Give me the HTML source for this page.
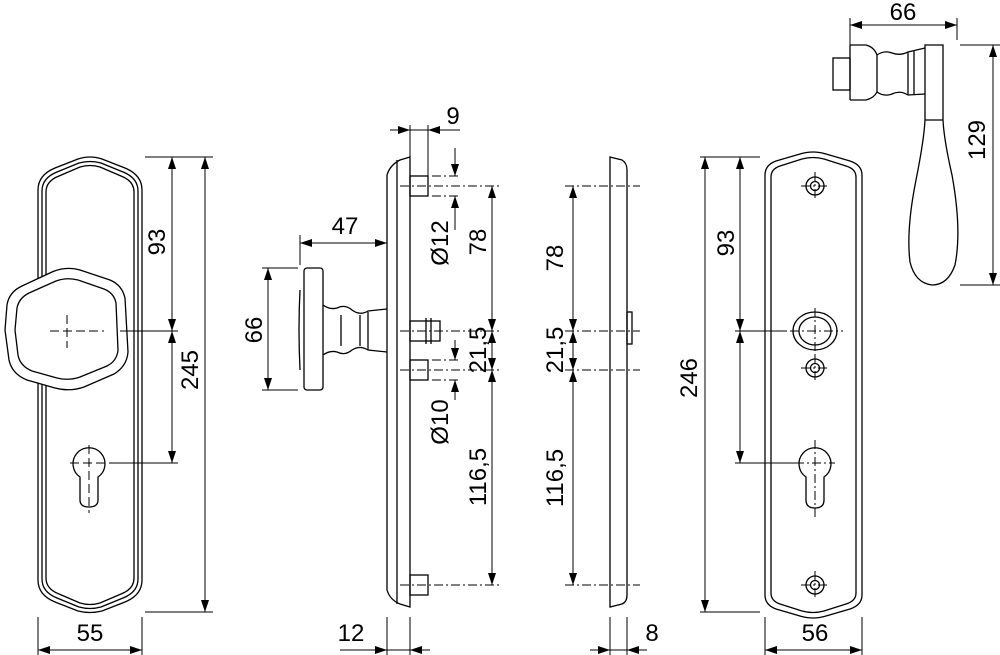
<!DOCTYPE html>
<html><head><meta charset="utf-8"><style>
html,body{margin:0;padding:0;background:#fff}
svg{display:block}
text{font-family:"Liberation Sans",Arial,sans-serif;font-size:24px;fill:#000}
</style></head><body>
<svg width="1000" height="655" viewBox="0 0 1000 655" xmlns="http://www.w3.org/2000/svg">
<defs>
<marker id="a" markerWidth="12" markerHeight="8" refX="12" refY="4" orient="auto-start-reverse" markerUnits="userSpaceOnUse"><path d="M0,0 L12,4 L0,8 Z" fill="#000"/></marker>
</defs>
<g fill="none" stroke="#000" stroke-width="1.3">
<path d="M38,190 Q38,175 55,168 L78,159 Q90,155 102,159 L125,168 Q142,175 142,190 L142,580 Q142,595 125,602 L102,611 Q90,614 78,611 L55,602 Q38,595 38,580 Z"/>
<path d="M42,191 Q42,178 57,172 L79,163 Q90,160 101,163 L123,172 Q138,178 138,191 L138,579 Q138,592 123,598 L101,607 Q90,610 79,607 L57,598 Q42,592 42,579 Z"/>
<path d="M46,192 Q46,181 59,176 L80,167 Q90,164 100,167 L121,176 Q134,181 134,192 L134,578 Q134,589 121,594 L100,603 Q90,606 80,603 L59,594 Q46,589 46,578 Z"/>
<path d="M7,305 Q9,292 22,286 L52,272 Q66,266 80,270 L110,280 Q122,285 125,298 L128,352 Q127,366 114,374 L84,387 Q70,392 55,388 L27,380 Q12,374 9,360 L5,330 Z" fill="#fff"/>
<path d="M17,308 Q19,298 29,293 L56,281 Q67,277 78,280 L104,289 Q114,293 116,303 L118,350 Q117,361 107,366 L80,377 Q69,381 57,378 L32,371 Q20,366 18,355 L15,330 Z"/>
<path d="M80,477 A16,16 0 1,1 98,477 L98,500 Q98,507 89,507 Q80,507 80,500 Z"/>
</g>
<g fill="none" stroke="#000" stroke-width="1" stroke-dasharray="9,4">
<line x1="50" y1="331" x2="104" y2="331"/><line x1="67" y1="315" x2="67" y2="348"/>
<line x1="70" y1="463" x2="115" y2="463"/><line x1="89" y1="445" x2="89" y2="513"/>
</g>
<g stroke="#000" stroke-width="1" fill="none">
<line x1="120" y1="331" x2="178" y2="331"/><line x1="115" y1="463" x2="178" y2="463"/>
<line x1="145" y1="157" x2="213" y2="157"/><line x1="145" y1="612" x2="213" y2="612"/>
<line x1="172" y1="157" x2="172" y2="331" marker-start="url(#a)" marker-end="url(#a)"/>
<line x1="172" y1="331" x2="172" y2="463" marker-start="url(#a)" marker-end="url(#a)"/>
<line x1="205" y1="157" x2="205" y2="612" marker-start="url(#a)" marker-end="url(#a)"/>
<line x1="38" y1="617" x2="38" y2="655"/><line x1="142" y1="617" x2="142" y2="655"/>
<line x1="38" y1="650" x2="142" y2="650" marker-start="url(#a)" marker-end="url(#a)"/>
</g>
<text transform="translate(165,242) rotate(-90)" text-anchor="middle">93</text>
<text transform="translate(198,370) rotate(-90)" text-anchor="middle">245</text>
<text x="90" y="641" text-anchor="middle">55</text>

<g fill="none" stroke="#000" stroke-width="1.3">
<path d="M387,175 Q390,165 400,160 L410,157 L410,607 L400,604 Q390,600 387,590 Z"/>
<line x1="397" y1="160" x2="397" y2="604"/>
<rect x="410" y="176" width="18" height="20"/>
<rect x="410" y="321" width="30" height="20"/>
<rect x="410" y="360" width="18" height="20"/>
<rect x="410" y="575" width="18" height="20"/>
<rect x="304" y="268" width="19" height="122" rx="3"/>
<path d="M300,290 Q298,329 300,370"/>
<path d="M323,305 Q330,310 337,308 Q345,304 352,310 Q360,316 368,311 L387,309"/>
<path d="M323,355 Q330,350 337,352 Q345,356 352,350 Q360,345 368,350 L387,352"/>
<line x1="341" y1="315" x2="341" y2="346"/><line x1="360" y1="315" x2="360" y2="346"/><line x1="368" y1="312" x2="368" y2="350"/>
<line x1="426" y1="318" x2="426" y2="344"/><line x1="431" y1="318" x2="431" y2="344"/>
</g>
<g stroke="#000" stroke-width="1" fill="none" stroke-dasharray="9,3,2,3">
<line x1="400" y1="186" x2="500" y2="186"/>
<line x1="400" y1="331" x2="500" y2="331"/>
<line x1="400" y1="370" x2="500" y2="370"/>
<line x1="400" y1="585" x2="500" y2="585"/>
<line x1="432" y1="176" x2="460" y2="176"/><line x1="432" y1="196" x2="460" y2="196"/>
<line x1="432" y1="360" x2="460" y2="360"/><line x1="432" y1="380" x2="460" y2="380"/>
</g>
<g stroke="#000" stroke-width="1" fill="none">
<line x1="410" y1="125" x2="410" y2="157"/><line x1="428" y1="125" x2="428" y2="176"/>
<line x1="390" y1="130" x2="410" y2="130" marker-end="url(#a)"/>
<line x1="448" y1="130" x2="428" y2="130" marker-end="url(#a)"/><line x1="410" y1="130" x2="460" y2="130"/>
<line x1="455" y1="148" x2="455" y2="176" marker-end="url(#a)"/>
<line x1="455" y1="230" x2="455" y2="196" marker-end="url(#a)"/>
<line x1="455" y1="340" x2="455" y2="360" marker-end="url(#a)"/>
<line x1="455" y1="400" x2="455" y2="380" marker-end="url(#a)"/>
<line x1="300" y1="235" x2="300" y2="265"/>
<line x1="300" y1="243" x2="387" y2="243" marker-start="url(#a)" marker-end="url(#a)"/>
<line x1="262" y1="268" x2="298" y2="268"/><line x1="262" y1="390" x2="298" y2="390"/>
<line x1="268" y1="268" x2="268" y2="390" marker-start="url(#a)" marker-end="url(#a)"/>
<line x1="492" y1="186" x2="492" y2="331" marker-start="url(#a)" marker-end="url(#a)"/>
<line x1="492" y1="331" x2="492" y2="370" marker-start="url(#a)" marker-end="url(#a)"/>
<line x1="492" y1="370" x2="492" y2="585" marker-start="url(#a)" marker-end="url(#a)"/>
<line x1="387" y1="617" x2="387" y2="655"/><line x1="410" y1="617" x2="410" y2="655"/>
<line x1="340" y1="650" x2="387" y2="650" marker-end="url(#a)"/>
<line x1="430" y1="650" x2="410" y2="650" marker-end="url(#a)"/><line x1="387" y1="650" x2="410" y2="650"/>
</g>
<text x="453" y="124" text-anchor="middle">9</text>
<text x="345" y="234" text-anchor="middle">47</text>
<text transform="translate(262,330) rotate(-90)" text-anchor="middle">66</text>
<text transform="translate(448,243) rotate(-90)" text-anchor="middle">Ø12</text>
<text transform="translate(486,242) rotate(-90)" text-anchor="middle">78</text>
<text transform="translate(486,350) rotate(-90)" text-anchor="middle">21,5</text>
<text transform="translate(448,422) rotate(-90)" text-anchor="middle">Ø10</text>
<text transform="translate(486,477) rotate(-90)" text-anchor="middle">116,5</text>
<text x="351" y="641" text-anchor="middle">12</text>

<g fill="none" stroke="#000" stroke-width="1.3">
<path d="M610,157 L622,160 Q627,163 627,170 L627,595 Q627,602 622,604 L610,607 Z"/>
<rect x="627" y="312" width="5" height="32"/>
</g>
<g stroke="#000" stroke-width="1" fill="none" stroke-dasharray="9,3,2,3">
<line x1="565" y1="186" x2="640" y2="186"/>
<line x1="565" y1="331" x2="640" y2="331"/>
<line x1="565" y1="370" x2="640" y2="370"/>
<line x1="565" y1="585" x2="640" y2="585"/>
</g>
<g stroke="#000" stroke-width="1" fill="none">
<line x1="573" y1="186" x2="573" y2="331" marker-start="url(#a)" marker-end="url(#a)"/>
<line x1="573" y1="331" x2="573" y2="370" marker-start="url(#a)" marker-end="url(#a)"/>
<line x1="573" y1="370" x2="573" y2="585" marker-start="url(#a)" marker-end="url(#a)"/>
<line x1="610" y1="617" x2="610" y2="655"/><line x1="627" y1="617" x2="627" y2="655"/>
<line x1="590" y1="650" x2="610" y2="650" marker-end="url(#a)"/>
<line x1="647" y1="650" x2="627" y2="650" marker-end="url(#a)"/><line x1="610" y1="650" x2="627" y2="650"/>
</g>
<text transform="translate(563,258) rotate(-90)" text-anchor="middle">78</text>
<text transform="translate(563,350) rotate(-90)" text-anchor="middle">21,5</text>
<text transform="translate(563,478) rotate(-90)" text-anchor="middle">116,5</text>
<text x="652" y="641" text-anchor="middle">8</text>

<g fill="none" stroke="#000" stroke-width="1.3">
<path d="M765,175 Q765,165 776,161 L800,154 Q813,150 826,154 L850,161 Q862,165 862,175 L862,595 Q862,605 850,609 L826,616 Q813,620 800,616 L776,609 Q765,605 765,595 Z"/>
<path d="M771,177 Q771,169 780,166 L802,159 Q813,156 824,159 L846,166 Q856,169 856,177 L856,593 Q856,601 846,604 L824,611 Q813,614 802,611 L780,604 Q771,601 771,593 Z"/>
<circle cx="815" cy="186" r="9"/><circle cx="815" cy="186" r="4.5"/>
<circle cx="815" cy="585" r="9"/><circle cx="815" cy="585" r="4.5"/>
<circle cx="815" cy="368" r="9"/><circle cx="815" cy="368" r="4.5"/>
<ellipse cx="815" cy="331" rx="22" ry="19"/><ellipse cx="815" cy="331" rx="16" ry="14"/>
<path d="M806,477 A16,16 0 1,1 824,477 L824,500 Q824,508 815,508 Q806,508 806,500 Z"/>
</g>
<g stroke="#000" stroke-width="1" fill="none" stroke-dasharray="9,3,2,3">
<line x1="815" y1="172" x2="815" y2="200"/><line x1="801" y1="186" x2="830" y2="186"/>
<line x1="815" y1="571" x2="815" y2="599"/><line x1="801" y1="585" x2="830" y2="585"/>
<line x1="815" y1="354" x2="815" y2="382"/><line x1="801" y1="368" x2="830" y2="368"/>
<line x1="815" y1="308" x2="815" y2="355"/><line x1="790" y1="331" x2="843" y2="331"/>
<line x1="815" y1="440" x2="815" y2="520"/><line x1="795" y1="463" x2="835" y2="463"/>
</g>
<g stroke="#000" stroke-width="1" fill="none">
<line x1="735" y1="331" x2="787" y2="331"/><line x1="735" y1="463" x2="795" y2="463"/>
<line x1="700" y1="157" x2="760" y2="157"/><line x1="700" y1="612" x2="760" y2="612"/>
<line x1="705" y1="157" x2="705" y2="612" marker-start="url(#a)" marker-end="url(#a)"/>
<line x1="740" y1="157" x2="740" y2="331" marker-start="url(#a)" marker-end="url(#a)"/>
<line x1="740" y1="331" x2="740" y2="463" marker-start="url(#a)" marker-end="url(#a)"/>
<line x1="765" y1="617" x2="765" y2="655"/><line x1="862" y1="617" x2="862" y2="655"/>
<line x1="765" y1="650" x2="862" y2="650" marker-start="url(#a)" marker-end="url(#a)"/>
</g>
<text transform="translate(734,243) rotate(-90)" text-anchor="middle">93</text>
<text transform="translate(697,378) rotate(-90)" text-anchor="middle">246</text>
<text x="815" y="641" text-anchor="middle">56</text>

<g fill="none" stroke="#000" stroke-width="1.3">
<rect x="833" y="58" width="17" height="32"/>
<path d="M850,45 L866,45 Q874,47 877,55 Q884,50 892,53 Q900,56 908,52 L925,48"/>
<path d="M850,100 L866,100 Q874,98 877,92 Q884,97 892,94 Q900,90 908,95 L925,94"/>
<line x1="850" y1="45" x2="850" y2="100"/>
<line x1="877" y1="55" x2="877" y2="92"/><line x1="908" y1="52" x2="908" y2="95"/><line x1="914" y1="51" x2="914" y2="94"/>
<path d="M925,45 L943,45 L943,120 Q944,140 952,175 Q962,230 955,265 Q948,285 932,285 Q915,283 910,262 Q906,230 916,180 Q924,140 925,120 Z"/>
<line x1="925" y1="120" x2="943" y2="120"/>
</g>
<g stroke="#000" stroke-width="1" fill="none">
<line x1="850" y1="18" x2="850" y2="45"/><line x1="957" y1="18" x2="957" y2="40"/>
<line x1="850" y1="25" x2="957" y2="25" marker-start="url(#a)" marker-end="url(#a)"/>
<line x1="960" y1="45" x2="1000" y2="45"/><line x1="960" y1="285" x2="1000" y2="285"/>
<line x1="993" y1="45" x2="993" y2="285" marker-start="url(#a)" marker-end="url(#a)"/>
</g>
<text x="903" y="20" text-anchor="middle">66</text>
<text transform="translate(985,140) rotate(-90)" text-anchor="middle">129</text>
</svg>
</body></html>
